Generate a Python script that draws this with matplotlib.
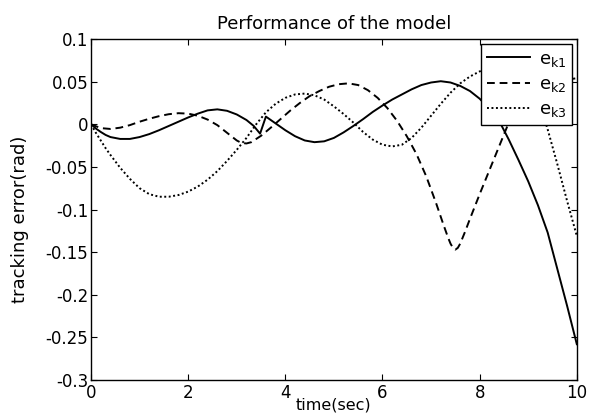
import numpy as np
import matplotlib
matplotlib.use('Agg')
import matplotlib.pyplot as plt

plt.rcParams['font.family'] = ['DejaVu Sans']
plt.rcParams['mathtext.fontset'] = 'dejavusans'

# tracking errors of the three joints (rad) against time (sec)
t_k1 = [0, 0.1, 0.2, 0.3, 0.4, 0.6, 0.8, 1.0, 1.2, 1.4, 1.6, 1.8, 2.0, 2.2, 2.4,
        2.6, 2.8, 3.0, 3.2, 3.35, 3.48, 3.6, 3.7, 3.8, 4.0, 4.2, 4.4, 4.6, 4.8,
        5.0, 5.2, 5.4, 5.6, 5.8, 6.0, 6.2, 6.4, 6.6, 6.8, 7.0, 7.2, 7.4, 7.6,
        7.8, 8.0, 8.2, 8.4, 8.6, 8.8, 9.0, 9.2, 9.4, 9.6, 9.8, 10.0]
e_k1 = [0, -0.005, -0.009, -0.0125, -0.015, -0.0172, -0.0172, -0.015, -0.0115,
        -0.007, -0.002, 0.003, 0.008, 0.0125, 0.0163, 0.0175, 0.0158, 0.0115,
        0.005, -0.002, -0.011, 0.009, 0.005, 0.001, -0.007, -0.014, -0.019,
        -0.021, -0.020, -0.016, -0.0095, -0.002, 0.006, 0.0145, 0.022, 0.029,
        0.035, 0.041, 0.046, 0.049, 0.0505, 0.049, 0.045, 0.039, 0.030, 0.018,
        0.004, -0.018, -0.042, -0.067, -0.095, -0.127, -0.170, -0.213, -0.258]

t_k2 = [0, 0.2, 0.4, 0.6, 0.8, 1.0, 1.2, 1.4, 1.6, 1.8, 2.0, 2.2, 2.4, 2.6, 2.8,
        3.0, 3.1, 3.2, 3.3, 3.5, 3.7, 3.9, 4.1, 4.3, 4.5, 4.7, 4.9, 5.1, 5.3,
        5.5, 5.7, 5.9, 6.1, 6.3, 6.5, 6.7, 6.9, 7.1, 7.25, 7.35, 7.4, 7.45,
        7.5, 7.55, 7.6, 7.7, 7.8, 8.0, 8.2, 8.4, 8.6, 8.8, 9.0, 9.3, 9.6, 10.0]
e_k2 = [0, -0.0045, -0.0055, -0.004, -0.001, 0.003, 0.0065, 0.0095, 0.0118,
        0.013, 0.0125, 0.010, 0.0055, -0.001, -0.010, -0.019, -0.022, -0.0225,
        -0.021, -0.0135, -0.004, 0.006, 0.016, 0.025, 0.033, 0.039, 0.044,
        0.047, 0.048, 0.046, 0.040, 0.031, 0.019, 0.004, -0.014, -0.035,
        -0.061, -0.092, -0.117, -0.133, -0.140, -0.145, -0.147, -0.145, -0.140,
        -0.126, -0.111, -0.082, -0.054, -0.026, 0.002, 0.020, 0.033, 0.045,
        0.051, 0.054]

t_k3 = [0, 0.1, 0.2, 0.3, 0.4, 0.6, 0.8, 1.0, 1.2, 1.4, 1.6, 1.8, 2.0, 2.2, 2.4,
        2.6, 2.8, 3.0, 3.2, 3.4, 3.6, 3.8, 4.0, 4.2, 4.4, 4.6, 4.8, 5.0, 5.2,
        5.4, 5.6, 5.8, 6.0, 6.2, 6.4, 6.6, 6.8, 7.0, 7.2, 7.4, 7.6, 7.8, 8.0,
        8.2, 8.4, 8.6, 8.8, 9.0, 9.2, 9.4, 9.6, 9.8, 10.0]
e_k3 = [0, -0.010, -0.019, -0.028, -0.036, -0.051, -0.064, -0.075, -0.082,
        -0.085, -0.085, -0.083, -0.079, -0.073, -0.065, -0.055, -0.043, -0.030,
        -0.016, 0.000, 0.014, 0.024, 0.031, 0.035, 0.036, 0.034, 0.029, 0.021,
        0.012, 0.002, -0.009, -0.018, -0.024, -0.026, -0.024, -0.016, -0.004,
        0.010, 0.024, 0.037, 0.048, 0.056, 0.062, 0.066, 0.068, 0.068, 0.062,
        0.050, 0.030, -0.006, -0.047, -0.090, -0.131]

x_ticks = [0, 2, 4, 6, 8, 10]
y_ticks = [-0.3, -0.25, -0.2, -0.15, -0.1, -0.05, 0, 0.05, 0.1]
y_tick_labels = ['-0.3', '-0.25', '-0.2', '-0.15', '-0.1', '-0.05', '0', '0.05', '0.1']

fig = plt.figure(figsize=(5.91, 4.16), dpi=100)
ax = fig.add_axes([0.154, 0.0865, 0.822, 0.8197])

ax.plot(t_k1, e_k1, color='black', lw=1.4, ls='-', label=r'e$_{\mathrm{k1}}$')
ax.plot(t_k2, e_k2, color='black', lw=1.4, ls=(0, (4, 2.5)), label=r'e$_{\mathrm{k2}}$')
ax.plot(t_k3, e_k3, color='black', lw=1.4, ls=(0, (1, 1.3)), label=r'e$_{\mathrm{k3}}$')

ax.set_xlim(0, 10)
ax.set_ylim(-0.3, 0.1)
ax.set_xticks(x_ticks)
ax.set_xticklabels([str(v) for v in x_ticks])
ax.set_yticks(y_ticks)
ax.set_yticklabels(y_tick_labels)
ax.tick_params(direction='in', top=True, right=True, length=4, width=0.8,
               labelsize=12, pad=2)
ax.tick_params(axis='x', pad=3)
for s in ax.spines.values():
    s.set_linewidth(1.0)

ax.set_title('Performance of the model', fontsize=13, pad=7)
ax.set_xlabel('time(sec)', fontsize=11.5)
ax.xaxis.set_label_coords(0.5, -0.05)
ax.set_ylabel('tracking error(rad)', fontsize=13)
ax.yaxis.set_label_coords(-0.127, 0.47)

leg = ax.legend(loc='upper right', bbox_to_anchor=(0.99, 0.985), fontsize=13,
                fancybox=False, framealpha=1, edgecolor='black',
                borderaxespad=0, handlelength=2.4, handletextpad=0.5,
                labelspacing=0.35, borderpad=0.3)
leg.get_frame().set_linewidth(1.0)

fig.savefig('out.png', dpi=100)
